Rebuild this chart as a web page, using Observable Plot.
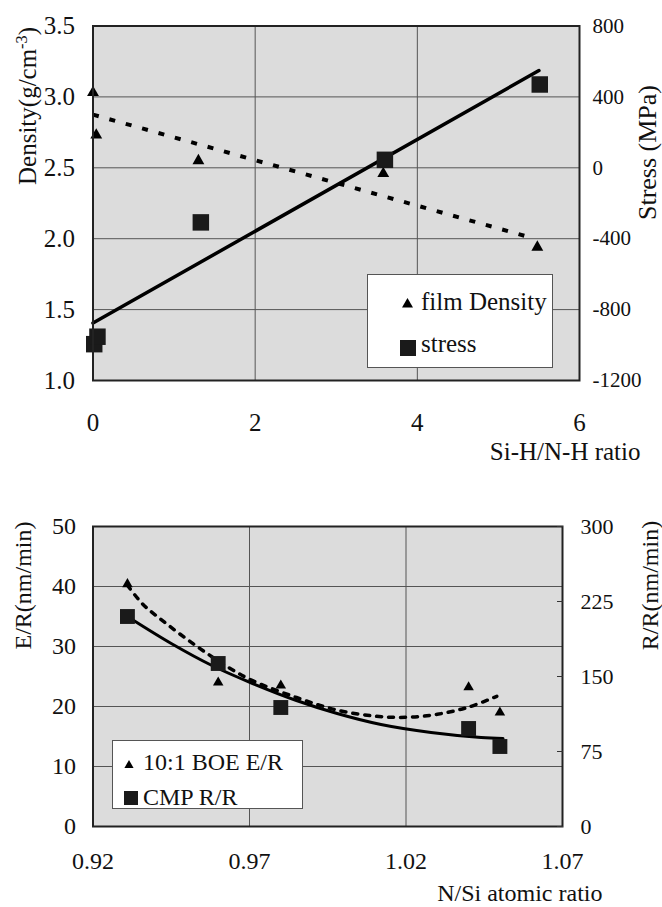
<!DOCTYPE html>
<html><head><meta charset="utf-8">
<script src="https://cdn.jsdelivr.net/npm/d3@7"></script>
<script src="https://cdn.jsdelivr.net/npm/@observablehq/plot@0.6"></script>
<style>
body{margin:0;background:#fff;}
#wrap{position:relative;width:662px;height:907px;font-family:"Liberation Serif","DejaVu Serif",serif;color:#111;overflow:hidden;}
#top,#bottom{position:absolute;left:0;}
#top{top:0;} #bottom{top:470px;}
.legend{position:absolute;background:#fff;border:1px solid #555;box-sizing:border-box;}
.lab{position:absolute;white-space:nowrap;}
.sym{position:absolute;}
svg text{font-family:"Liberation Serif","DejaVu Serif",serif;}
</style></head><body>
<div id="wrap"><div id="top"></div><div id="bottom"></div></div>
<script>
// ---------- Top chart data ----------
const densityRatio = [0, 0.04, 1.30, 3.58, 5.48];
const filmDensity = [3.03, 2.73, 2.55, 2.46, 1.94];
const stressRatio = [0.015, 0.055, 1.33, 3.60, 5.51];
const stressMPa = [-995, -953, -308, 45, 470];
const densityFitRatio = [0, 5.45];
const densityFit = [2.875, 2.0];
const stressFitRatio = [0, 5.5];
const stressFit = [-876, 549];
const topXTicks = [0, 2, 4, 6];
const densityTicks = [1.0, 1.5, 2.0, 2.5, 3.0, 3.5];
const stressTicks = [-1200, -800, -400, 0, 400, 800];
const topLegend = ["film Density", "stress"];

// ---------- Bottom chart data ----------
const nsiRatio = [0.931, 0.960, 0.980, 1.040, 1.050];
const boeER = [40.4, 24.0, 23.5, 23.2, 19.0];
const cmpRR = [210, 163, 119, 98, 80];
const boeFitRatio = [0.931, 0.936, 0.942, 0.949, 0.956, 0.963, 0.971, 0.985, 0.998, 1.010, 1.020, 1.030, 1.040, 1.049];
const boeFit = [40.2, 37.0, 34.4, 31.6, 29.0, 26.6, 24.3, 21.5, 19.4, 18.4, 18.2, 18.7, 19.9, 21.7];
const cmpFitRatio = [0.932, 0.945, 0.958, 0.971, 0.985, 0.998, 1.012, 1.028, 1.044, 1.051];
const cmpFit = [208, 183, 161, 143, 126, 113, 102, 94, 89, 88];
const nsiTicks = [0.92, 0.97, 1.02, 1.07];
const erTicks = [0, 10, 20, 30, 40, 50];
const rrTicks = [0, 75, 150, 225, 300];
const bottomLegend = ["10:1 BOE E/R", "CMP R/R"];

const FONT = '"Liberation Serif","DejaVu Serif",serif';
const BG = "#dcdcdc";
const GRID = "#555";

// ---------- Top chart ----------
const s2d = d3.scaleLinear([stressTicks[0], stressTicks[stressTicks.length-1]], [densityTicks[0], densityTicks[densityTicks.length-1]]);
const dens = densityRatio.map((x, i) => ({x, y: filmDensity[i]}));
const strs = stressRatio.map((x, i) => ({x, y: s2d(stressMPa[i])}));
const densFit = densityFitRatio.map((x, i) => ({x, y: densityFit[i]}));
const strsFit = stressFitRatio.map((x, i) => ({x, y: s2d(stressFit[i])}));

const topPlot = Plot.plot({
  width: 662, height: 470,
  marginLeft: 92.5, marginRight: 83, marginTop: 25.5, marginBottom: 90,
  style: {fontFamily: FONT, background: "transparent", color: "#111", overflow: "visible"},
  x: {domain: [topXTicks[0], topXTicks[topXTicks.length-1]]},
  y: {domain: [densityTicks[0], densityTicks[densityTicks.length-1]]},
  marks: [
    Plot.frame({fill: BG, stroke: "none"}),
    Plot.ruleX(topXTicks.slice(1, -1), {stroke: GRID, strokeWidth: 1}),
    Plot.ruleY(densityTicks.slice(1, -1), {stroke: GRID, strokeWidth: 1}),
    Plot.line(densFit, {x: "x", y: "y", stroke: "#000", strokeWidth: 4, strokeDasharray: "6,11", strokeLinecap: "butt"}),
    Plot.line(strsFit, {x: "x", y: "y", stroke: "#000", strokeWidth: 3.5}),
    Plot.dot(dens, {x: "x", y: "y", symbol: "triangle", fill: "#000", r: 4.4}),
    Plot.dot(strs, {x: "x", y: "y", symbol: "square", fill: "#1a1a1a", r: 9.3}),
    Plot.frame({stroke: "#222", strokeWidth: 2}),
    Plot.axisX({ticks: topXTicks, tickSize: 0, tickPadding: 33, fontSize: 25, label: null, tickFormat: d3.format("d")}),
    Plot.axisY({anchor: "left", ticks: densityTicks, tickSize: 0, tickPadding: 18, fontSize: 25, label: null, tickFormat: d3.format(".1f")}),
    Plot.axisY({anchor: "right", ticks: stressTicks.map(s2d), tickSize: 0, tickPadding: 13, fontSize: 21, label: null,
      tickFormat: d => String(Math.round(s2d.invert(d)))}),
    Plot.text(["Density(g/cm-3)"], {text: d => d, frameAnchor: "top-left", rotate: -90, textAnchor: "end", lineAnchor: "middle", dx: -65.5, dy: 1, fontSize: 25}),
    Plot.text(["Stress (MPa)"], {text: d => d, frameAnchor: "top-right", rotate: -90, textAnchor: "middle", lineAnchor: "middle", dx: 68, dy: 126.5, fontSize: 26}),
    Plot.text(["Si-H/N-H ratio"], {text: d => d, frameAnchor: "bottom-right", textAnchor: "end", lineAnchor: "middle", dx: 61, dy: 71, fontSize: 25})
  ]
});
document.getElementById("top").appendChild(topPlot);

d3.select(topPlot).selectAll("text").filter(function(){ return this.textContent === "Density(g/cm-3)"; }).each(function(){
  const t = d3.select(this);
  t.selectAll("*").remove(); t.text(null);
  t.append("tspan").text("Density(g/cm");
  t.append("tspan").attr("baseline-shift", "super").attr("font-size", "65%").text("-3");
  t.append("tspan").text(")");
});

// ---------- Bottom chart ----------
const r2e = d3.scaleLinear([rrTicks[0], rrTicks[rrTicks.length-1]], [erTicks[0], erTicks[erTicks.length-1]]);
const boe = nsiRatio.map((x, i) => ({x, y: boeER[i]}));
const cmp = nsiRatio.map((x, i) => ({x, y: r2e(cmpRR[i])}));
const boeF = boeFitRatio.map((x, i) => ({x, y: boeFit[i]}));
const cmpF = cmpFitRatio.map((x, i) => ({x, y: r2e(cmpFit[i])}));

const botPlot = Plot.plot({
  width: 662, height: 437,
  marginLeft: 92.5, marginRight: 100, marginTop: 56, marginBottom: 81,
  style: {fontFamily: FONT, background: "transparent", color: "#111", overflow: "visible"},
  x: {domain: [nsiTicks[0], nsiTicks[nsiTicks.length-1]]},
  y: {domain: [erTicks[0], erTicks[erTicks.length-1]]},
  marks: [
    Plot.frame({fill: BG, stroke: "none"}),
    Plot.ruleX(nsiTicks.slice(1, -1), {stroke: GRID, strokeWidth: 1}),
    Plot.ruleY(erTicks.slice(1, -1), {stroke: GRID, strokeWidth: 1}),
    Plot.line(boeF, {x: "x", y: "y", stroke: "#000", strokeWidth: 3.5, strokeDasharray: "5,7", curve: "catmull-rom"}),
    Plot.line(cmpF, {x: "x", y: "y", stroke: "#000", strokeWidth: 3, curve: "catmull-rom"}),
    Plot.dot(boe, {x: "x", y: "y", symbol: "triangle", fill: "#000", r: 3.9}),
    Plot.dot(cmp, {x: "x", y: "y", symbol: "square", fill: "#1a1a1a", r: 8.4}),
    Plot.frame({stroke: "#222", strokeWidth: 2}),
    Plot.axisX({ticks: nsiTicks, tickSize: 0, tickPadding: 25, fontSize: 24, label: null, tickFormat: d3.format(".2f")}),
    Plot.axisY({anchor: "left", ticks: erTicks, tickSize: 0, tickPadding: 17, fontSize: 24, label: null, tickFormat: d3.format("d")}),
    Plot.axisY({anchor: "right", ticks: rrTicks.map(r2e), tickSize: -6, tickPadding: 24, fontSize: 22, label: null, stroke: "#333",
      tickFormat: d => String(Math.round(r2e.invert(d)))}),
    Plot.text(["E/R(nm/min)"], {text: d => d, frameAnchor: "top-left", rotate: -90, textAnchor: "middle", lineAnchor: "middle", dx: -69.5, dy: 59, fontSize: 24}),
    Plot.text(["R/R(nm/min)"], {text: d => d, frameAnchor: "top-right", rotate: -90, textAnchor: "middle", lineAnchor: "middle", dx: 88, dy: 59, fontSize: 24}),
    Plot.text(["N/Si atomic ratio"], {text: d => d, frameAnchor: "bottom-right", textAnchor: "end", lineAnchor: "middle", dx: 40, dy: 67, fontSize: 24})
  ]
});
document.getElementById("bottom").appendChild(botPlot);

// ---------- Legends (HTML) ----------
function triSvg(w) {
  const h = w * 0.87;
  return `<svg width="${w}" height="${h}" viewBox="0 0 ${w} ${h}"><polygon points="${w/2},0 ${w},${h} 0,${h}" fill="#000"/></svg>`;
}
function sqSvg(s) {
  return `<svg width="${s}" height="${s}"><rect width="${s}" height="${s}" fill="#1a1a1a"/></svg>`;
}
function legend(box, items, fontSize) {
  const el = document.createElement("div");
  el.className = "legend";
  Object.assign(el.style, {left: box[0] + "px", top: box[1] + "px", width: box[2] + "px", height: box[3] + "px"});
  items.forEach(it => {
    const s = document.createElement("div");
    s.className = "sym";
    s.innerHTML = it.kind === "tri" ? triSvg(it.size) : sqSvg(it.size);
    const h = it.kind === "tri" ? it.size * 0.87 : it.size;
    Object.assign(s.style, {left: (it.sx - it.size/2) + "px", top: (it.sy - h/2) + "px", height: h + "px", lineHeight: 0});
    el.appendChild(s);
    const t = document.createElement("div");
    t.className = "lab";
    t.textContent = it.label;
    Object.assign(t.style, {left: it.tx + "px", top: (it.ty - fontSize/2) + "px", fontSize: fontSize + "px", lineHeight: fontSize + "px"});
    el.appendChild(t);
  });
  document.getElementById("wrap").appendChild(el);
}
legend([367, 274, 186, 94], [
  {kind: "tri", size: 11, sx: 39, sy: 28, tx: 53, ty: 26, label: topLegend[0]},
  {kind: "sq", size: 16, sx: 40, sy: 73, tx: 53, ty: 68, label: topLegend[1]}
], 25);
legend([112, 740, 191, 69], [
  {kind: "tri", size: 10, sx: 16, sy: 23, tx: 30, ty: 21, label: bottomLegend[0]},
  {kind: "sq", size: 14, sx: 18, sy: 57, tx: 30, ty: 56, label: bottomLegend[1]}
], 24);
</script>
</body></html>
